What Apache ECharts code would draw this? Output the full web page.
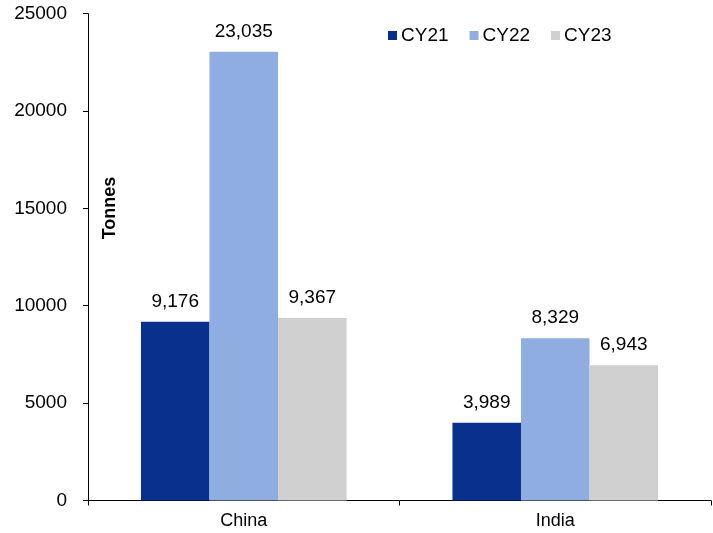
<!DOCTYPE html>
<html><head><meta charset="utf-8">
<script src="https://cdn.jsdelivr.net/npm/echarts@6/dist/echarts.min.js"></script>
<style>html,body{margin:0;padding:0;background:#fff}#c{width:713px;height:533px}</style>
</head><body><div id="c"></div>
<script>
const categories = ['China', 'India'];
const seriesNames = ['CY21', 'CY22', 'CY23'];
const cy21 = [9176, 3989];
const cy22 = [23035, 8329];
const cy23 = [9367, 6943];
const yTicks = [0, 5000, 10000, 15000, 20000, 25000];
const colors = ['#08308C', '#8FADE0', '#D1D0D1'];
const F = 'Liberation Sans, Arial, sans-serif';
const chart = echarts.init(document.getElementById('c'));
const values = [cy21, cy22, cy23];
chart.setOption({
  animation: false,
  grid: {left: 88, right: 2, top: 13.6, bottom: 32.5},
  legend: {
    left: 383, top: 21, itemWidth: 9, itemHeight: 9, itemGap: 21,
    icon: 'rect',
    textStyle: {fontFamily: F, fontSize: 19, color: '#000', padding: [0,0,0,-1]},
    data: seriesNames
  },
  xAxis: {
    type: 'category', data: categories,
    axisLine: {lineStyle: {color: '#000', width: 1}},
    axisTick: {show: true, length: 5, lineStyle: {color: '#000'}},
    axisLabel: {fontFamily: F, fontSize: 18, color: '#000', margin: 12}
  },
  yAxis: {
    type: 'value', min: yTicks[0], max: yTicks[yTicks.length-1], interval: 5000,
    splitLine: {show: false},
    axisLine: {show: true, lineStyle: {color: '#000', width: 1}},
    axisTick: {show: true, length: 5, lineStyle: {color: '#000'}},
    axisLabel: {fontFamily: F, fontSize: 19, color: '#000', margin: 21, formatter: v => String(v)}
  },
  graphic: [{
    type: 'text', x: 110, y: 208, rotation: Math.PI/2,
    style: {text: 'Tonnes', font: 'bold 18px ' + F, fill: '#000', align: 'center', verticalAlign: 'middle'}
  }],
  series: seriesNames.map((n, i) => ({
    name: n, type: 'bar', data: values[i],
    barGap: '0%', barCategoryGap: '34%',
    itemStyle: {color: colors[i]},
    label: {show: true, position: 'top', distance: 11, fontFamily: F, fontSize: 19, color: '#000',
      formatter: p => p.value.toLocaleString('en-US')}
  }))
});
</script></body></html>
